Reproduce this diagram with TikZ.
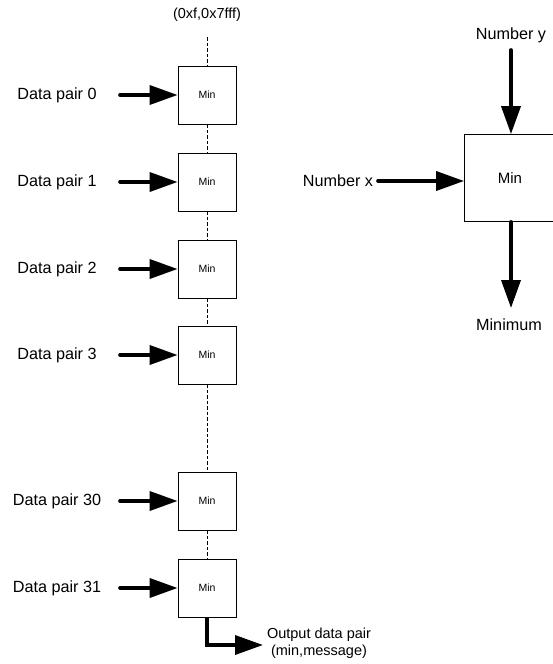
\documentclass[tikz,border=0pt]{standalone}
\usepackage{fontspec}
\setmainfont{Liberation Sans}
\usetikzlibrary{arrows.meta}
\begin{document}
\begin{tikzpicture}[x=1pt,y=-1pt,
  minbox/.style={draw,line width=0.8pt,minimum width=58pt,minimum height=58pt,inner sep=0pt,font=\fontsize{10.5}{12}\selectfont},
  bigbox/.style={draw,line width=0.8pt,minimum width=91pt,minimum height=87pt,inner sep=0pt,font=\fontsize{15}{17}\selectfont},
  lbl/.style={font=\fontsize{16.2}{19}\selectfont,inner sep=0pt},
  feed/.style={line width=3.6pt,line cap=round,-{Triangle[length=28pt,width=19pt]}},
  chain/.style={line width=0.7pt,dash pattern=on 3.5pt off 2pt}]
\useasboundingbox (0,0) rectangle (553,664);

% chain of Min cells
\node[font=\fontsize{14.5}{16}\selectfont,inner sep=0pt] (init) at (207,15) {(0xf,0x7fff)};
\coordinate (top) at (207,37);
\node[minbox] (m0)  at (207,95)  {Min};
\node[minbox] (m1)  at (207,182) {Min};
\node[minbox] (m2)  at (207,269) {Min};
\node[minbox] (m3)  at (207,355) {Min};
\node[minbox] (m30) at (207,501) {Min};
\node[minbox] (m31) at (207,588) {Min};

\draw[chain] (top) -- (m0.north);
\draw[chain] (m0.south) -- (m1.north);
\draw[chain] (m1.south) -- (m2.north);
\draw[chain] (m2.south) -- (m3.north);
\draw[chain] (m3.south) -- (m30.north);
\draw[chain] (m30.south) -- (m31.north);

% inputs
\foreach \n/\t in {m0/0,m1/1,m2/2,m3/3,m30/30,m31/31}{
  \node[lbl] (d\n) at (57,0 |- \n.west) {Data pair \t};
  \coordinate (s\n) at (120,0 |- \n.west);
  \draw[feed] (s\n) -- (\n.west);
}

% output
\coordinate (bend) at (207,645);
\node[font=\fontsize{14.5}{17}\selectfont,align=center,inner sep=0pt] (out) at (319,643) {Output data pair\\(min,message)};
\coordinate (outend) at (263,645);
\draw[feed,line cap=butt] (m31.south) -- (bend) -- (outend);

% single Min cell
\node[bigbox] (big) at (510,178) {Min};
\node[lbl] (ny) at (511,35) {Number y};
\node[lbl] (nx) at (338,181) {Number x};
\node[lbl] (mn) at (509,325) {Minimum};
\coordinate (ys) at (511,50);
\coordinate (xs) at (378,181);
\coordinate (me) at (511,308);
\draw[feed] (ys) -- (ys |- big.north);
\draw[feed] (xs) -- (big.west |- xs);
\draw[feed] (big.south -| me) -- (me);
\end{tikzpicture}
\end{document}
